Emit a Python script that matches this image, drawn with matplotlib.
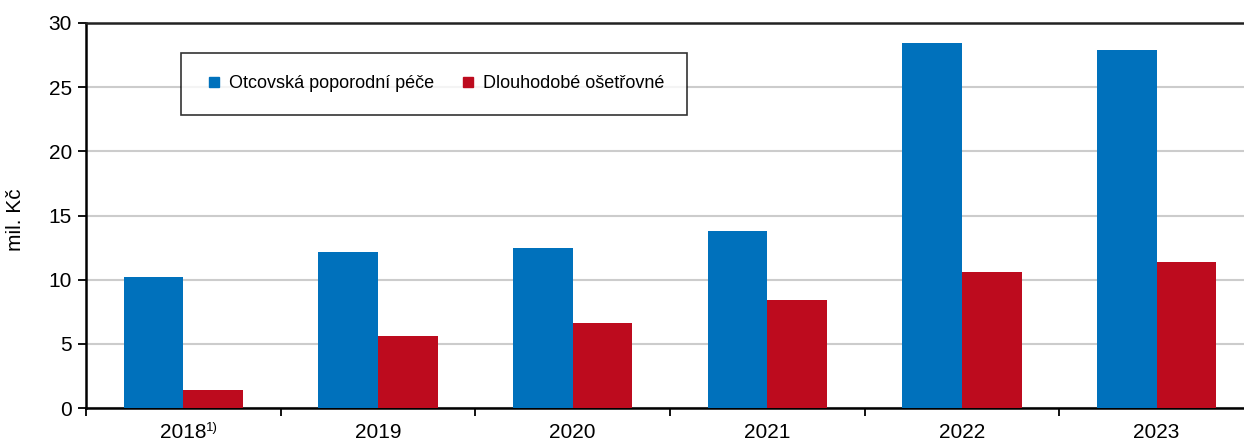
import numpy as np
import matplotlib.pyplot as plt
from matplotlib.lines import Line2D
from matplotlib.ticker import FixedLocator

# data (mil. Kč)
years = ["2018", "2019", "2020", "2021", "2022", "2023"]
otcovska = [10.2, 12.15, 12.45, 13.8, 28.45, 27.9]
dlouhodobe = [1.4, 5.6, 6.6, 8.45, 10.6, 11.35]
series_names = ["Otcovská poporodní péče", "Dlouhodobé ošetřovné"]

BLUE = "#0071BC"
RED = "#BD0B1E"

plt.rcParams["font.family"] = ["Liberation Sans", "DejaVu Sans"]

fig = plt.figure(figsize=(12.44, 4.41), dpi=100)
# axes runs slightly past the right edge, as in the reference
ax = fig.add_axes([86 / 1244, 33 / 441, 1168 / 1244, 385 / 441])

x = np.arange(len(years)) + 0.5
w = 0.307
ax.bar(x - w / 2, otcovska, w, color=BLUE, zorder=3)
ax.bar(x + w / 2, dlouhodobe, w, color=RED, zorder=3)

ax.set_xlim(0, len(years))
ax.set_ylim(0, 30)
ax.set_yticks(range(0, 31, 5))
ax.yaxis.grid(True, color="#cccccc", linewidth=1.5, zorder=0)

# group separators as major ticks, labels on minor ticks
ax.xaxis.set_major_locator(FixedLocator(np.arange(len(years) + 1)))
ax.set_xticklabels([])
ax.xaxis.set_minor_locator(FixedLocator(x))
ax.set_xticklabels(years, minor=True)
ax.tick_params(axis="x", which="major", direction="out", length=6, width=1.3, color="black")
ax.tick_params(axis="x", which="minor", length=0, pad=11, labelsize=15)
ax.tick_params(axis="y", direction="out", length=6, width=1.3, labelsize=15, pad=4)

# footnote mark next to 2018
ax.annotate("1)", xy=(x[0], 0), xycoords=("data", "axes fraction"),
            xytext=(16.3, -10), textcoords="offset points",
            fontsize=9.5, ha="left", va="top")

ax.set_ylabel("mil. Kč", fontsize=15)
ax.yaxis.set_label_coords(-0.052, 0.49)

for side in ["left", "bottom"]:
    ax.spines[side].set_linewidth(1.8)
    ax.spines[side].set_color("black")
ax.spines["top"].set_linewidth(1.8)
ax.spines["top"].set_color("#222222")
ax.spines["right"].set_visible(False)

handles = [Line2D([], [], marker="s", linestyle="none", markersize=6.7, color=c)
           for c in (BLUE, RED)]
leg = ax.legend(handles, series_names, loc="upper left", bbox_to_anchor=(0.0813, 0.923),
                ncol=2, fontsize=13, frameon=True, fancybox=False,
                edgecolor="black", borderpad=1.25, handlelength=1.2,
                handletextpad=0.2, columnspacing=1.3, borderaxespad=0)
leg.get_frame().set_linewidth(1.2)
leg.set_zorder(5)

fig.savefig("out.png", dpi=100)
